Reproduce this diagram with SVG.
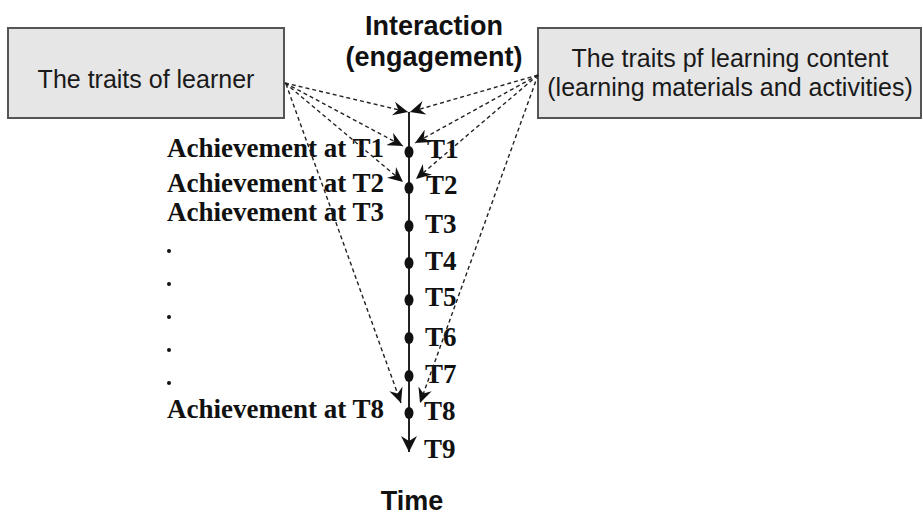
<svg xmlns="http://www.w3.org/2000/svg" width="923" height="516" viewBox="0 0 923 516">
<style>
.box{fill:#e6e6e6;stroke:#555;stroke-width:2}
.bt{font-family:"Liberation Sans",Arial,sans-serif;font-size:25px;fill:#1a1a1a;text-anchor:middle}
.hd{font-family:"Liberation Sans",Arial,sans-serif;font-size:27px;font-weight:bold;fill:#111;text-anchor:middle}
.sr{font-family:"Liberation Serif","Times New Roman",serif;font-size:27px;font-weight:bold;fill:#111}
.dash{stroke:#222;stroke-width:1.4;stroke-dasharray:4 3;fill:none;marker-end:url(#ah)}
.axis{stroke:#222;stroke-width:2;fill:none}
</style>
<defs>
<marker id="ah" markerUnits="userSpaceOnUse" markerWidth="16" markerHeight="14" refX="15" refY="7" orient="auto">
<path d="M0,0 L15,7 L0,14 L5,7 z" fill="#111"/>
</marker>
<marker id="ax" markerUnits="userSpaceOnUse" markerWidth="17" markerHeight="16" refX="16" refY="8" orient="auto">
<path d="M0,0 L16,8 L0,16 L5,8 z" fill="#111"/>
</marker>
</defs>
<rect width="923" height="516" fill="#fff"/>
<g id="learner">
<rect class="box" x="8" y="28" width="276" height="90"/>
<text class="bt" x="146" y="88">The traits of learner</text>
</g>
<g id="content">
<rect class="box" x="538" y="28" width="383" height="90"/>
<text class="bt" x="730" y="67">The traits pf learning content</text>
<text class="bt" x="730" y="96">(learning materials and activities)</text>
</g>
<g id="interaction">
<text class="hd" x="434" y="35">Interaction</text>
<text class="hd" x="434" y="66">(engagement)</text>
</g>
<g id="time-axis">
<line class="axis" x1="409" y1="112" x2="409" y2="452" marker-end="url(#ax)"/>
<g fill="#111">
<ellipse cx="409" cy="152" rx="4.5" ry="6"/>
<ellipse cx="409" cy="188" rx="4.5" ry="6"/>
<ellipse cx="409" cy="226" rx="4.5" ry="6"/>
<ellipse cx="409" cy="263" rx="4.5" ry="6"/>
<ellipse cx="409" cy="300" rx="4.5" ry="6"/>
<ellipse cx="409" cy="338" rx="4.5" ry="6"/>
<ellipse cx="409" cy="376" rx="4.5" ry="6"/>
<ellipse cx="409" cy="413" rx="4.5" ry="6"/>
</g>
<g class="sr">
<text x="427" y="158">T1</text>
<text x="426" y="194">T2</text>
<text x="425" y="233">T3</text>
<text x="425" y="270">T4</text>
<text x="425" y="306">T5</text>
<text x="425" y="346">T6</text>
<text x="425" y="383">T7</text>
<text x="424" y="420">T8</text>
<text x="424" y="458">T9</text>
</g>
</g>
<g id="achievements" class="sr">
<text x="167" y="157">Achievement at T1</text>
<text x="167" y="192">Achievement at T2</text>
<text x="167" y="221">Achievement at T3</text>
<text x="167" y="418">Achievement at T8</text>
</g>
<g id="ellipsis" fill="#111">
<circle cx="169" cy="251" r="2"/>
<circle cx="169" cy="284" r="2"/>
<circle cx="169" cy="317" r="2"/>
<circle cx="169" cy="350" r="2"/>
<circle cx="169" cy="383" r="2"/>
</g>
<g id="connectors">
<path class="dash" d="M285,83 L408,112"/>
<path class="dash" d="M285,83 L403,146"/>
<path class="dash" d="M285,83 L403,182"/>
<path class="dash" d="M286,84 L401,403"/>
<path class="dash" d="M538,75 L410,112"/>
<path class="dash" d="M538,75 L415,143"/>
<path class="dash" d="M538,75 L416,179"/>
<path class="dash" d="M538,75 L420,403"/>
</g>
<g id="time-label">
<text class="hd" x="412" y="510">Time</text>
</g>
</svg>
